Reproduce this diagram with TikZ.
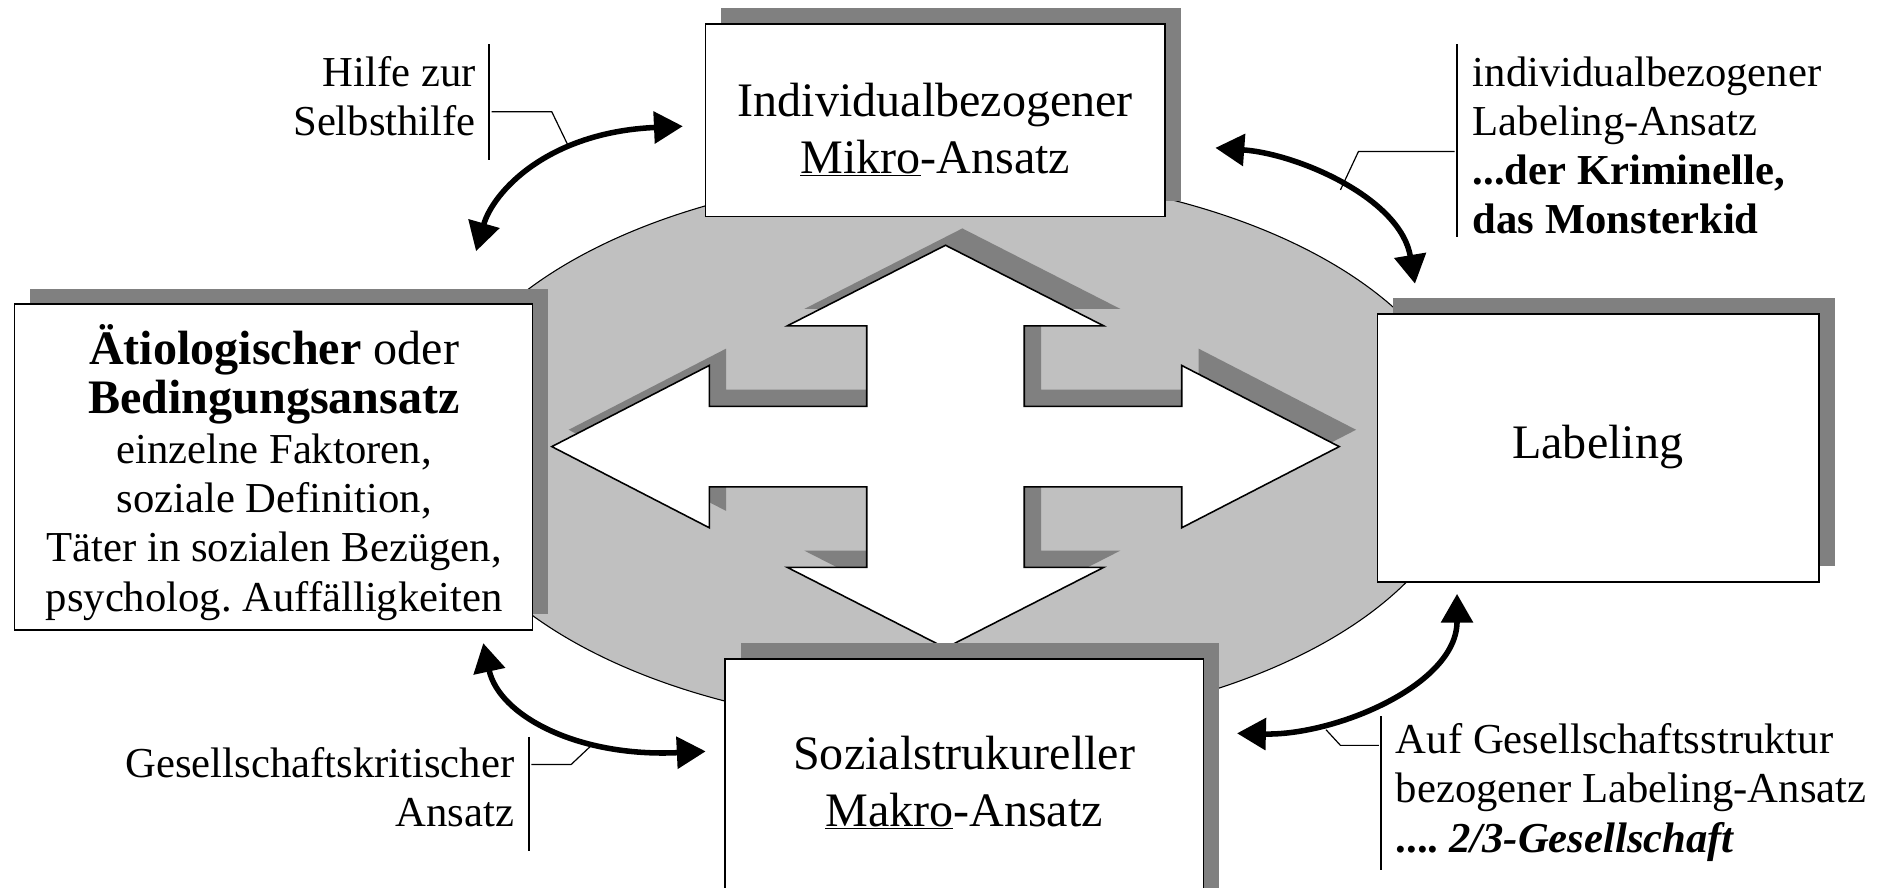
\documentclass[tikz,border=0pt]{standalone}
\usepackage{fontspec}
\setmainfont{Liberation Serif}
\usetikzlibrary{arrows.meta,shadows,shapes.geometric}
\definecolor{ellgray}{HTML}{C0C0C0}
\definecolor{shgray}{HTML}{808080}
\newcommand\crossshape{(786.5,204) -- (918,271) -- (852,271) -- (852,338) -- (983,338) -- (983,304) -- (1114,371.5) -- (983,439) -- (983,405) -- (852,405) -- (852,472) -- (918,472) -- (786.5,539) -- (655,472) -- (721,472) -- (721,405) -- (590,405) -- (590,439) -- (459,371.5) -- (590,304) -- (590,338) -- (721,338) -- (721,271) -- (655,271) -- cycle}
\frenchspacing
\begin{document}
\begin{tikzpicture}[x=1pt,y=-1pt,
  box/.style={draw=black, line width=1.3pt, fill=white, inner sep=0pt,
    drop shadow={shadow xshift=13pt, shadow yshift=13pt, fill=shgray, opacity=1}},
  big/.style={font=\fontsize{40}{47}\selectfont, align=center, inner sep=0pt},
  small/.style={font=\fontsize{35.5}{41}\selectfont, inner sep=0pt},
  lead/.style={line width=1pt},
  bar/.style={line width=1.4pt},
  dbl/.style={line width=4.6pt, {Triangle[length=24pt,width=26pt]}-{Triangle[length=24pt,width=26pt]}}
]
\useasboundingbox (0,0) rectangle (1568,738);
\clip (0,0) rectangle (1568,738);
\fill[white] (0,0) rectangle (1568,738);

% ellipse
\node[ellipse, draw=black, line width=0.9pt, fill=ellgray, minimum width=862pt, minimum height=462pt, inner sep=0pt] (ell) at (790,375) {};

% cross arrow with shadow
\fill[shgray, xshift=14pt, yshift=14pt] \crossshape;
\draw[line width=1.3pt, fill=white, line join=miter] \crossshape;

% boxes
\node[box, minimum width=382pt, minimum height=160pt] (mikro) at (778,100) {};
\node[box, minimum width=431pt, minimum height=271pt] (aetio) at (227.5,388.5) {};
\node[box, minimum width=367pt, minimum height=223pt] (label) at (1329.5,372.5) {};
\node[box, minimum width=398pt, minimum height=210pt] (makro) at (802,653) {};

% box texts
\node[big] (mikrot) at (778,108) {Individualbezogener\\\underline{Mikro}-Ansatz};
\node[big] (labelt) at (1329,372) {Labeling};
\node[big] (makrot) at (802,651) {Sozialstrukureller\\\underline{Makro}-Ansatz};
\node[small, align=center] (aetiot) at (228,393) {{\fontsize{40}{43}\selectfont\textbf{Ätiologischer} oder}\\{\fontsize{40}{43}\selectfont\textbf{Bedingungsansatz}}\\einzelne Faktoren,\\soziale Definition,\\Täter in sozialen Bezügen,\\psycholog. Auffälligkeiten};

% curved double arrows
\coordinate (tlA) at (396,209); \coordinate (tlB) at (568,105);
\draw[dbl] (tlA) .. controls (410,160) and (455,110) .. (tlB);
\coordinate (trA) at (1011,123); \coordinate (trB) at (1177,236);
\draw[dbl] (trA) .. controls (1080,128) and (1165,165) .. (trB);
\coordinate (blA) at (402,535); \coordinate (blB) at (587,625);
\draw[dbl] (blA) .. controls (415,595) and (480,630) .. (blB);
\coordinate (brA) at (1029,610); \coordinate (brB) at (1212,494);
\draw[dbl] (brA) .. controls (1110,612) and (1212,570) .. (brB);

% labels with leader lines
\node[small, anchor=east, align=right] (tlt) at (396,80) {Hilfe zur\\Selbsthilfe};
\draw[bar] (407,37) -- (407,133);
\draw[lead] (409,93) -- (459,93) -- (473,122);

\node[small, anchor=west, align=left] (trt) at (1225,121) {individualbezogener\\Labeling-Ansatz\\\textbf{...der Kriminelle,}\\\textbf{das Monsterkid}};
\draw[bar] (1212,37) -- (1212,197);
\draw[lead] (1210,126) -- (1130,126) -- (1115,158);

\node[small, anchor=east, align=right] (blt) at (428,655) {Gesellschaftskritischer\\Ansatz};
\draw[bar] (440,613) -- (440,708);
\draw[lead] (442,636) -- (475,636) -- (492,620);

\node[small, anchor=west, align=left] (brt) at (1161,659) {Auf Gesellschaftsstruktur\\bezogener Labeling-Ansatz\\\textbf{.... \textit{2/3-Gesellschaft}}};
\draw[bar] (1149,596) -- (1149,724);
\draw[lead] (1147,620) -- (1115,620) -- (1103,607);
\end{tikzpicture}
\end{document}
